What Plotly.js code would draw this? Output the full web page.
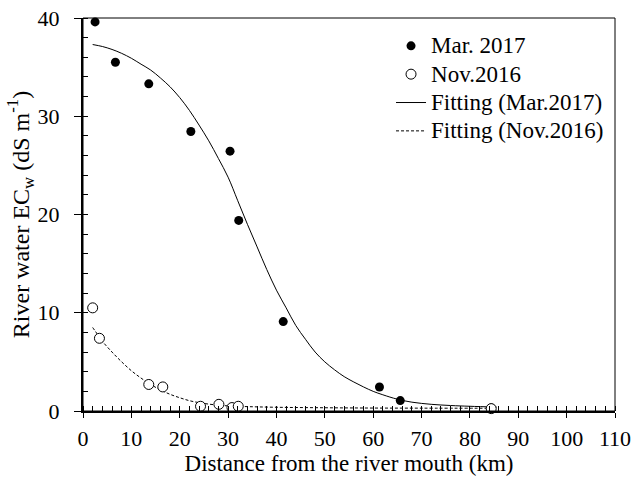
<!DOCTYPE html>
<html>
<head>
<meta charset="utf-8">
<script src="https://cdn.plot.ly/plotly-3.0.1.min.js"></script>
<style>html,body{margin:0;padding:0;background:#fff;}#chart{width:634px;height:477px;}</style>
</head>
<body>
<div id="chart"></div>
<script>
// Observed data (km, dS/m)
var marX = [2.5, 6.7, 13.6, 22.3, 30.4, 32.2, 41.4, 61.3, 65.6, 84.4];
var marY = [39.6, 35.5, 33.3, 28.45, 26.45, 19.4, 9.1, 2.44, 1.06, 0.3];
var novX = [2.0, 3.4, 13.6, 16.5, 24.3, 28.1, 30.8, 32.1, 84.4];
var novY = [10.5, 7.4, 2.7, 2.45, 0.48, 0.68, 0.35, 0.48, 0.24];
// Fitted curves
var fitMarX = [2, 4, 6, 8, 10, 12, 14, 16, 18, 20, 22, 24, 26, 28, 30, 32, 34, 36, 38, 40, 42, 44, 46, 48, 50, 52, 54, 56, 58, 60, 62, 65, 68, 72, 76, 80, 85.5];
var fitMarY = [37.3, 37.1, 36.8, 36.4, 35.9, 35.3, 34.7, 33.9, 33.0, 31.9, 30.6, 29.1, 27.5, 25.7, 23.8, 21.4, 19.0, 16.7, 14.4, 12.3, 10.5, 8.7, 7.3, 6.0, 5.0, 4.2, 3.5, 2.95, 2.45, 2.0, 1.65, 1.2, 0.9, 0.68, 0.56, 0.48, 0.4];
var fitNovX = [2, 3, 4, 6, 8, 10, 12, 14, 16, 18, 20, 22, 24, 26, 28, 30, 33, 40, 50, 60, 70, 85];
var fitNovY = [8.5, 7.8, 7.1, 6.0, 5.0, 4.1, 3.35, 2.7, 2.15, 1.7, 1.35, 1.05, 0.85, 0.7, 0.6, 0.52, 0.46, 0.38, 0.33, 0.3, 0.29, 0.28];
var names = ["Mar. 2017", "Nov.2016", "Fitting (Mar.2017)", "Fitting (Nov.2016)"];
var xTicks = [0, 10, 20, 30, 40, 50, 60, 70, 80, 90, 100, 110];
var yTicks = [0, 10, 20, 30, 40];

var F = "Liberation Serif";
function big(s) { return '<span style="font-size:23px">' + s + '</span>'; }
var traces = [
  {x: fitMarX, y: fitMarY, mode: "lines", name: big(names[2]), legendrank: 3,
   line: {color: "#000", width: 1, shape: "spline", smoothing: 1}},
  {x: fitNovX, y: fitNovY, mode: "lines", name: big(names[3]), legendrank: 4,
   line: {color: "#000", width: 1, dash: "3px,2px", shape: "spline", smoothing: 1}},
  {x: marX, y: marY, mode: "markers", name: big(names[0]), legendrank: 1, cliponaxis: false,
   marker: {color: "#000", size: 9, symbol: "circle"}},
  {x: novX, y: novY, mode: "markers", name: big(names[1]), legendrank: 2, cliponaxis: false,
   marker: {color: "#fff", size: 10, symbol: "circle", line: {color: "#000", width: 1}}},
  {x: [0], y: [0], xaxis: "x2", yaxis: "y2", mode: "markers", showlegend: false,
   marker: {opacity: 0}, hoverinfo: "skip"}
];

var layout = {
  width: 634, height: 477,
  margin: {l: 83, r: 19, t: 18, b: 66},
  paper_bgcolor: "#fff", plot_bgcolor: "#fff",
  font: {family: F, color: "#000", size: 22},
  showlegend: true,
  legend: {x: 0.579, y: 0.978, xanchor: "left", yanchor: "top", bgcolor: "rgba(0,0,0,0)",
           font: {family: F, size: 19.5, color: "#000"}, tracegroupgap: 0},
  xaxis: {range: [0, 110], tickvals: xTicks, ticktext: xTicks.map(String),
          ticks: "outside", ticklen: 5, tickwidth: 1, tickcolor: "#000",
          tickfont: {family: F, size: 22, color: "#000"},
          minor: {ticks: "inside", dtick: 2, tick0: 0, ticklen: 5, tickwidth: 1, tickcolor: "#000", showgrid: false},
          showline: true, linewidth: 2, linecolor: "#000", showgrid: false, zeroline: false,
          ticklabelstandoff: 2,
          title: {text: "Distance from the river mouth (km)", font: {family: F, size: 23, color: "#000"}, standoff: 4}},
  yaxis: {range: [0, 40], tickvals: yTicks, ticktext: yTicks.map(String),
          ticks: "outside", ticklen: 7, tickwidth: 1, tickcolor: "#000",
          tickfont: {family: F, size: 22, color: "#000"},
          minor: {ticks: "inside", dtick: 2, tick0: 0, ticklen: 5, tickwidth: 1, tickcolor: "#000", showgrid: false},
          showline: true, linewidth: 2, linecolor: "#000", showgrid: false, zeroline: false,
          ticklabelstandoff: 10,
          title: {text: "River water EC<sub>w</sub> (dS m<sup>-1</sup>)", font: {family: F, size: 24, color: "#000"}, standoff: 0}},
  xaxis2: {overlaying: "x", anchor: "y", range: [0, 110], tickvals: xTicks, ticks: "inside", ticklen: 5,
           tickcolor: "#000", showticklabels: false, showline: false, showgrid: false, zeroline: false},
  yaxis2: {overlaying: "y", anchor: "x", range: [0, 40], tickvals: yTicks, ticks: "inside", ticklen: 5,
           tickcolor: "#000", showticklabels: false, showline: false, showgrid: false, zeroline: false},
  shapes: [{type: "rect", xref: "paper", yref: "paper", x0: 0, x1: 1, y0: 0, y1: 1,
            line: {color: "#000", width: 1}, layer: "above"}]
};

Plotly.newPlot("chart", traces, layout, {staticPlot: true});
</script>
</body>
</html>
